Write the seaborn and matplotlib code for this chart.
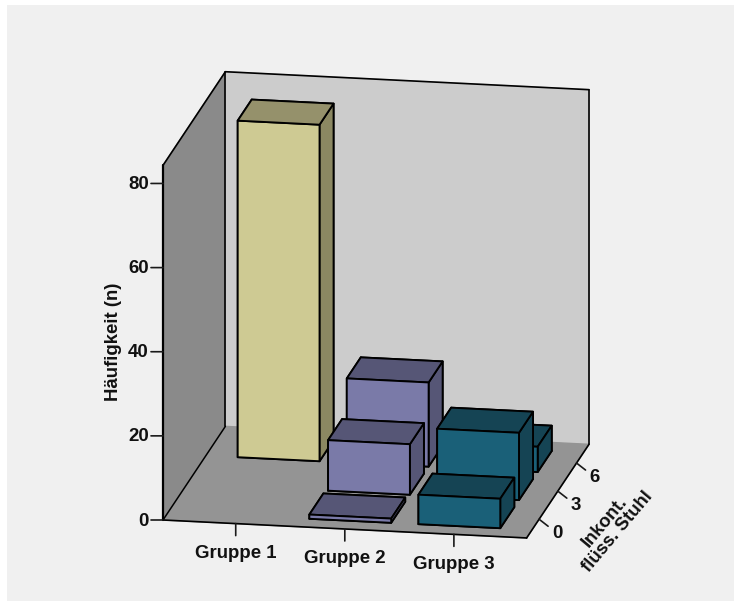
import matplotlib
matplotlib.use("Agg")
import matplotlib.pyplot as plt
import seaborn as sns
from matplotlib.patches import Rectangle
from mpl_toolkits.mplot3d import proj3d

# Data
groups = ["Gruppe 1", "Gruppe 2", "Gruppe 3"]
rows = [0, 3, 6]
counts_row0 = [0, 1, 7]
counts_row3 = [0, 12, 16]
counts_row6 = [80, 20, 6]
z_ticks = [0, 20, 40, 60, 80]

# Front, top/side shades per group
front_colors = ["#CECA93", "#7A7AA8", "#1A6078"]
top_colors = ["#95916B", "#565676", "#154454"]
side_colors = ["#8B8862", "#565676", "#154454"]

sns.set_theme(style="white")
plt.rcParams["font.family"] = ["Liberation Sans", "DejaVu Sans"]
plt.rcParams["font.weight"] = "bold"

W, H = 735, 601
fig = plt.figure(figsize=(W / 100, H / 100), dpi=100, facecolor="white")
fig.add_artist(Rectangle((7 / W, 0), (W - 8) / W, (H - 5) / H, transform=fig.transFigure,
                         facecolor="#F0F0F0", edgecolor="none", zorder=-10))

side = H / W
ax = fig.add_axes([0.5 - side / 2, 0, side, 1], projection="3d", proj_type="ortho",
                  computed_zorder=False)
ax.patch.set_visible(False)

x_min, x_max = 1 - 2 / 3, 3 + 2 / 3
y_min, y_max = -2.0, 8.0
z_min, z_max = 0.0, 84.3
bar_w, bar_d = 0.75, 2.25

# Back rows first so nearer bars overlap them
order = 5
for row, values in reversed(list(zip(rows, [counts_row0, counts_row3, counts_row6]))):
    for i, value in enumerate(values):
        if value <= 0:
            continue
        faces = [top_colors[i], top_colors[i], front_colors[i], side_colors[i],
                 side_colors[i], side_colors[i]]
        ax.bar3d(i + 1 - bar_w / 2, row - bar_d / 2, 0, bar_w, bar_d, value,
                 color=faces, edgecolor="black", linewidth=1.35, shade=False, zorder=order)
        order += 1

ax.set_xlim(x_min, x_max, view_margin=0)
ax.set_ylim(y_min, y_max, view_margin=0)
ax.set_zlim(z_min, z_max, view_margin=0)
ax.set_autoscale_on(False)
ax.view_init(elev=15.8, azim=-90 + 10.28)

ax.set_xticks([])
ax.set_yticks([])
ax.set_zticks([])
ax.grid(False)
for axis in (ax.xaxis, ax.yaxis, ax.zaxis):
    axis.line.set_color((0, 0, 0, 0))
    axis.pane.set_edgecolor((0, 0, 0, 0))
ax.xaxis.set_pane_color("#8A8A8A")
ax.yaxis.set_pane_color("#CCCCCC")
ax.zaxis.set_pane_color("#949494")

# Frame lines on the walls and floor
frame = [
    ((x_min, x_min), (y_min, y_min), (z_min, z_max), 1.6),
    ((x_min, x_min), (y_min, y_max), (z_max, z_max), 1.2),
    ((x_min, x_min), (y_min, y_max), (z_min, z_min), 1.1),
    ((x_min, x_max), (y_max, y_max), (z_max, z_max), 1.2),
    ((x_min, x_min), (y_max, y_max), (z_min, z_max), 1.2),
    ((x_max, x_max), (y_max, y_max), (z_min, z_max), 1.2),
    ((x_min, x_max), (y_min, y_min), (z_min, z_min), 1.2),
    ((x_max, x_max), (y_min, y_max), (z_min, z_min), 1.2),
]
for xs, ys, zs, lw in frame:
    ax.plot(xs, ys, zs, color="black", lw=lw, zorder=1, solid_capstyle="round")


def project(x, y, z):
    px, py, _ = proj3d.proj_transform(x, y, z, ax.get_proj())
    return px, py


def to_pixels(x, y, z):
    return ax.transData.transform(project(x, y, z))


# Scale and place the box so its extreme corners land where wanted
aspect = (370, 350, 369)
ax.set_box_aspect(aspect, zoom=1.0)
ax.apply_aspect()
left = to_pixels(x_min, y_min, z_min)
right = to_pixels(x_max, y_max, z_max)
zoom = 426 / (right[0] - left[0])
ax.set_box_aspect(aspect, zoom=zoom)
ax.apply_aspect()
left = to_pixels(x_min, y_min, z_min)
dx = (163 - left[0]) / W
dy = ((H - 520) - left[1]) / H
pos = ax.get_position()
ax.set_position([pos.x0 + dx, pos.y0 + dy, pos.width, pos.height])
ax.apply_aspect()

label_style = dict(fontsize=13.4, fontweight="bold", color="#111111", annotation_clip=False)
tick_style = dict(arrowstyle="-", color="#1A1A1A", lw=1.2, shrinkA=0, shrinkB=0)


def tick(xyz, dxy):
    ax.annotate("", xy=project(*xyz), xycoords="data", xytext=dxy, textcoords="offset pixels",
                arrowprops=tick_style, annotation_clip=False)


def tick_label(text, xyz, dxy, **kw):
    ax.annotate(text, xy=project(*xyz), xycoords="data", xytext=dxy, textcoords="offset pixels",
                **label_style, **kw)


for value in z_ticks:
    tick((x_min, y_min, value), (-12, 0))
    tick_label(str(value), (x_min, y_min, value), (-14, -1), ha="right", va="center")

for i, name in enumerate(groups):
    tick((i + 1, y_min, 0), (0, -12))
    tick_label(name, (i + 1, y_min, 0), (0, -30), ha="center", va="center")

for row in rows:
    tick((x_max, row, 0), (9, -7))
    tick_label(str(row), (x_max, row, 0), (18, -14), ha="center", va="center")

fig.text(114 / W, 1 - 342 / H, "Häufigkeit (n)", rotation=90, ha="center", va="center",
         fontsize=13.4, fontweight="bold", color="#111111")
fig.text(611 / W, 1 - 527 / H, "Inkont.\nflüss. Stuhl", rotation=50, ha="center", va="center",
         rotation_mode="anchor", multialignment="center", linespacing=0.95,
         fontsize=13.4, fontweight="bold", color="#111111")

fig.savefig("out.png", dpi=100, facecolor="white")
